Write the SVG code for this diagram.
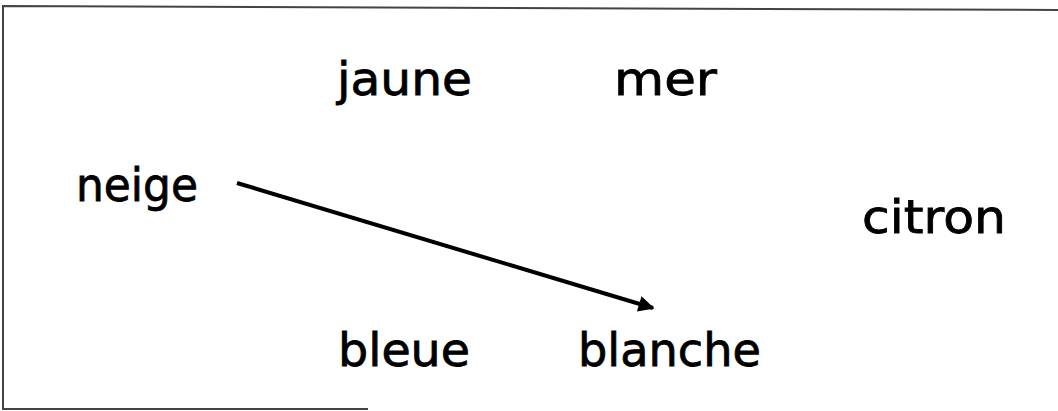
<svg xmlns="http://www.w3.org/2000/svg" width="1058" height="411" viewBox="0 0 1058 411">
  <style>
    .w { font-family: "DejaVu Sans", "Liberation Sans", sans-serif; font-size: 47px; fill: #000; stroke: #000; stroke-width: 0.8; }
    .frame { fill: none; stroke: #444; stroke-width: 2; }
    .conn { stroke: #000; stroke-width: 4; fill: none; }
  </style>
  <defs>
    <marker id="arr" viewBox="0 0 10 10" refX="9" refY="5" markerWidth="4.5" markerHeight="4" orient="auto" markerUnits="strokeWidth">
      <path d="M0,0 L10,5 L0,10 z" fill="#000"/>
    </marker>
  </defs>
  <rect width="1058" height="411" fill="#fff"/>
  <g id="frame">
    <path class="frame" d="M1058,10 L3,6 L3,409 L368,409"/>
  </g>
  <g id="n-jaune"><text class="w" x="337" y="95" textLength="135" lengthAdjust="spacingAndGlyphs">jaune</text></g>
  <g id="n-mer"><text class="w" x="614" y="95" textLength="103" lengthAdjust="spacingAndGlyphs">mer</text></g>
  <g id="n-neige"><text class="w" x="76" y="201" textLength="122" lengthAdjust="spacingAndGlyphs">neige</text></g>
  <g id="n-citron"><text class="w" x="862" y="233" textLength="144" lengthAdjust="spacingAndGlyphs">citron</text></g>
  <g id="n-bleue"><text class="w" x="338" y="366" textLength="132" lengthAdjust="spacingAndGlyphs">bleue</text></g>
  <g id="n-blanche"><text class="w" x="578" y="366" textLength="183" lengthAdjust="spacingAndGlyphs">blanche</text></g>
  <g id="connectors">
    <line class="conn" x1="237" y1="183" x2="653" y2="308" marker-end="url(#arr)"/>
  </g>
</svg>
